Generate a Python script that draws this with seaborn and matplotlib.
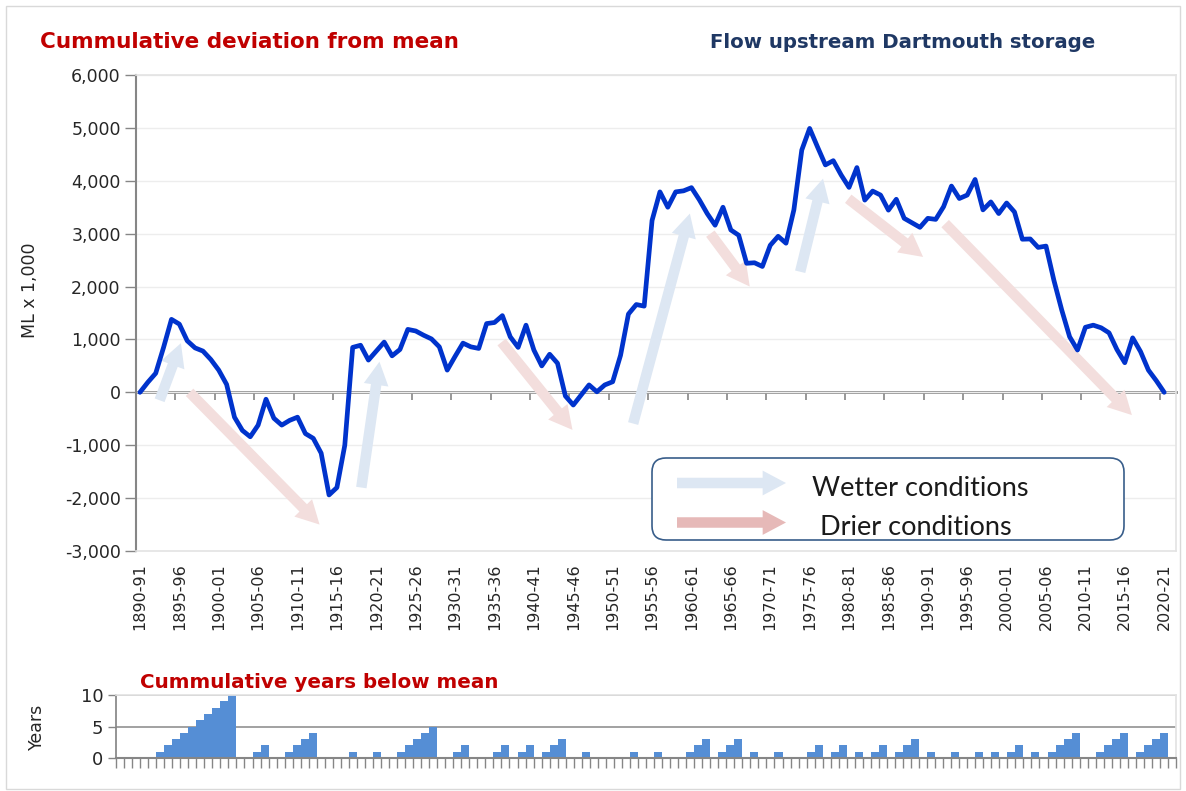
import numpy as np
import pandas as pd
import seaborn as sns
import matplotlib.pyplot as plt
from matplotlib.patches import FancyBboxPatch
from matplotlib.text import Annotation
from matplotlib.ticker import FuncFormatter

# water years 1890-91 .. 2020-21
first_year = 1890
n_years = 131
seasons = [f"{y}-{str(y + 1)[-2:]}" for y in range(first_year, first_year + n_years)]

# cumulative deviation from mean (ML x 1,000)
cum_dev = [
    0, 190, 360, 850, 1380, 1290, 975, 840, 780, 620,
    420, 150, -470, -720, -840, -620, -130, -490, -620, -530,
    -470, -780, -870, -1150, -1940, -1800, -1000, 850, 890, 610,
    780, 950, 690, 810, 1190, 1160, 1080, 1010, 860, 420,
    680, 930, 860, 830, 1300, 1320, 1450, 1050, 850, 1270,
    800, 500, 720, 550, -70, -240, -50, 140, 10, 140,
    200, 700, 1480, 1660, 1630, 3250, 3790, 3500, 3790, 3810,
    3870, 3640, 3380, 3160, 3500, 3070, 2970, 2440, 2450, 2380,
    2780, 2950, 2820, 3450, 4580, 4990, 4640, 4300, 4380, 4110,
    3875, 4250, 3635, 3805, 3730, 3445, 3650, 3290, 3205, 3120,
    3290, 3270, 3510, 3900, 3665, 3730, 4025, 3450, 3600, 3380,
    3580, 3410, 2895, 2900, 2740, 2765, 2120, 1555, 1050, 800,
    1230, 1270, 1220, 1125, 810, 560, 1030, 770, 420, 220,
    0,
]

# cumulative years below mean
years_below = [
    0, 0, 0, 0, 0, 1, 2, 3, 4, 5,
    6, 7, 8, 9, 10, 0, 0, 1, 2, 0,
    0, 1, 2, 3, 4, 0, 0, 0, 0, 1,
    0, 0, 1, 0, 0, 1, 2, 3, 4, 5,
    0, 0, 1, 2, 0, 0, 0, 1, 2, 0,
    1, 2, 0, 1, 2, 3, 0, 0, 1, 0,
    0, 0, 0, 0, 1, 0, 0, 1, 0, 0,
    0, 1, 2, 3, 0, 1, 2, 3, 0, 1,
    0, 0, 1, 0, 0, 0, 1, 2, 0, 1,
    2, 0, 1, 0, 1, 2, 0, 1, 2, 3,
    0, 1, 0, 0, 1, 0, 0, 1, 0, 1,
    0, 1, 2, 0, 1, 0, 1, 2, 3, 4,
    0, 0, 1, 2, 3, 4, 0, 1, 2, 3,
    4,
]

# trend arrows (tail -> head), in (year index, ML x 1,000)
wet_arrows = [((2.5, -150), (5.2, 930)), ((28.1, -1800), (30.4, 580)),
              ((62.6, -590), (69.8, 3380)), ((83.8, 2280), (86.7, 4040))]
dry_arrows = [((6.3, 0), (22.8, -2500)), ((45.9, 950), (54.9, -710)),
              ((72.4, 3000), (77.4, 2000)), ((89.9, 3660), (99.4, 2560)),
              ((102.2, 3190), (125.9, -430))]

LINE = '#0033CC'
BAR = '#558ED5'
WET = '#DDE7F3'
DRY = '#F3DEDD'
AXC = '#868686'

sns.set_theme(style="white")
plt.rcParams['font.family'] = ['DejaVu Sans']

fig = plt.figure(figsize=(11.86, 7.91), dpi=100)
W, H = 1186, 791

# ---- main chart ----
ax = fig.add_axes([136 / W, 1 - 551 / H, 1040 / W, 476 / H])
df = pd.DataFrame({'idx': np.arange(n_years), 'dev': cum_dev})
sns.lineplot(data=df, x='idx', y='dev', ax=ax, color=LINE, linewidth=3.4, zorder=3)

arrow_style = 'simple,head_length=0.8,head_width=0.85,tail_width=0.36'
for (tail, head) in wet_arrows:
    ax.annotate('', xy=head, xytext=tail, zorder=1,
                arrowprops=dict(arrowstyle=arrow_style, color=WET, lw=0,
                                shrinkA=0, shrinkB=0, mutation_scale=21))
for (tail, head) in dry_arrows:
    ax.annotate('', xy=head, xytext=tail, zorder=1,
                arrowprops=dict(arrowstyle=arrow_style, color=DRY, lw=0,
                                shrinkA=0, shrinkB=0, mutation_scale=21))

ax.set_xlim(-0.5, n_years + 0.5)
ax.set_ylim(-3000, 6000)
ax.set_yticks(range(-3000, 6001, 1000))
ax.yaxis.set_major_formatter(FuncFormatter(lambda v, p: f"{v:,.0f}"))
ax.set_xticks(range(0, n_years, 5))
ax.set_xticklabels(seasons[::5], rotation=90)
ax.tick_params(axis='x', bottom=False, length=0, pad=9, labelsize=11.5)
ax.tick_params(axis='y', left=True, length=8, width=1, color=AXC, direction='out',
               labelsize=12.5, pad=3)
ax.grid(axis='y', color='#EDEDED', linewidth=1)
ax.grid(axis='x', visible=False)
ax.set_axisbelow(True)
ax.set_xlabel('')
ax.set_ylabel('')
for s in ['top', 'right', 'bottom']:
    ax.spines[s].set_color('#E3E3E3')
    ax.spines[s].set_linewidth(1.2)
ax.spines['left'].set_color(AXC)
ax.spines['left'].set_linewidth(1.5)

# zero line with category tick marks
sec = ax.secondary_xaxis(3000 / 9000)
sec.set_xticks(np.arange(4.5, n_years, 5))
sec.tick_params(axis='x', bottom=True, length=6, width=1.2, color=AXC,
                direction='out', labelbottom=False)
for s in sec.spines.values():
    s.set_color(AXC)
    s.set_linewidth(2)

fig.text(30 / W, 1 - 290 / H, 'ML x 1,000', rotation=90, ha='center', va='center',
         fontsize=12.5)
fig.text(40 / W, 1 - 42 / H, 'Cummulative deviation from mean', color='#C00000',
         fontsize=15.5, fontweight='bold', va='center')
fig.text(710 / W, 1 - 42 / H, 'Flow upstream Dartmouth storage', color='#1F3864',
         fontsize=14.2, fontweight='bold', va='center')

# legend box
box = FancyBboxPatch((6.52, 2.51), 4.72, 0.82, boxstyle='round,pad=0,rounding_size=0.14',
                     transform=fig.dpi_scale_trans, facecolor='white',
                     edgecolor='#385D8A', linewidth=1.2, zorder=5)
fig.patches.append(box)
for yy, col, label, tx in [(3.08, WET, 'Wetter conditions', 8.12),
                           (2.685, '#E6B9B8', 'Drier conditions', 8.20)]:
    fig.add_artist(Annotation(
        '', xy=(7.86, yy), xytext=(6.77, yy), xycoords=fig.dpi_scale_trans,
        textcoords=fig.dpi_scale_trans, zorder=6,
        arrowprops=dict(arrowstyle=arrow_style, color=col, lw=0,
                        shrinkA=0, shrinkB=0, mutation_scale=21)))
    fig.text(tx / W * 100, (yy - 0.05) / H * 100, label, fontsize=19.5, color='#1A1A1A',
             va='center', family=['Lato', 'DejaVu Sans'], zorder=6)

# ---- years below mean bars ----
ax2 = fig.add_axes([116 / W, 1 - 758 / H, 1060 / W, 63 / H])
sns.barplot(x=np.arange(n_years), y=years_below, ax=ax2, color=BAR, width=1.0,
            saturation=1, linewidth=0)
ax2.set_xlim(-0.5, n_years + 0.5)
ax2.set_ylim(0, 10)
ax2.set_yticks([0, 5, 10])
ax2.set_xticks(np.arange(-0.5, n_years + 1, 1))
ax2.set_xticklabels([])
ax2.tick_params(axis='x', bottom=True, length=7, width=1, color=AXC, direction='out')
ax2.tick_params(axis='y', left=True, length=6, width=1, color=AXC, direction='out',
                labelsize=13, pad=3)
ax2.grid(axis='y', color='#9A9A9A', linewidth=1.3)
ax2.grid(axis='x', visible=False)
ax2.set_axisbelow(True)
ax2.set_xlabel('')
ax2.set_ylabel('')
ax2.spines['top'].set_color('#E3E3E3')
ax2.spines['right'].set_color('#E3E3E3')
ax2.spines['left'].set_color(AXC)
ax2.spines['bottom'].set_color(AXC)
ax2.spines['bottom'].set_linewidth(1.5)

fig.text(37 / W, 1 - 727 / H, 'Years', rotation=90, ha='center', va='center', fontsize=12.5)
fig.text(140 / W, 1 - 683 / H, 'Cummulative years below mean', color='#C00000',
         fontsize=14.3, fontweight='bold', va='center')

# chart border
fig.patches.append(plt.Rectangle((6 / W, 0.002), 1174 / W, 0.99, transform=fig.transFigure,
                                 fill=False, edgecolor='#D9D9D9', linewidth=1))

fig.savefig('out.png', dpi=100)
